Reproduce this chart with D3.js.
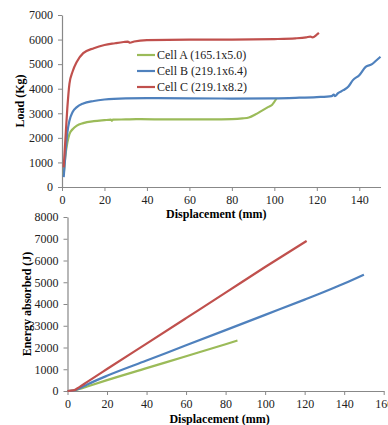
<!DOCTYPE html>
<html>
<head>
<meta charset="utf-8">
<script src="https://cdn.jsdelivr.net/npm/d3@7"></script>
<style>
  body { margin: 0; background: #fff; }
  text { font-family: "Liberation Serif", "Times New Roman", serif; }
</style>
</head>
<body>
<div id="chart"></div>
<script>
  // load curves: [displacement mm, load kg]
  var loadA = [[0.8,500],[1.5,1200],[2.5,1800],[3.5,2150],[5,2350],[7,2500],[10,2600],[15,2680],[20,2720],[23,2740],[23.5,2690],[24,2740],[30,2750],[35,2760],[37,2760],[50,2750],[70,2750],[80,2760],[85,2790],[88,2830],[91,2950],[94,3100],[97,3250],[99,3350],[101,3600]];
  var loadB = [[0.8,400],[1.5,1200],[2.5,2200],[3.5,2700],[5,3050],[7,3250],[10,3400],[15,3500],[20,3560],[30,3610],[40,3620],[60,3610],[80,3600],[100,3610],[110,3630],[120,3660],[127,3700],[128,3760],[128.5,3700],[130,3820],[132.5,3940],[135,4100],[137,4350],[140,4550],[143,4890],[146,5000],[148,5150],[150,5300]];
  var loadC = [[0.8,800],[1.5,1800],[2.5,3200],[3.5,4200],[5,4700],[7,5100],[10,5450],[15,5650],[20,5780],[25,5850],[29,5900],[31,5920],[32,5870],[34,5920],[40,5980],[60,6000],[80,6000],[100,6020],[110,6050],[115,6090],[117,6120],[118,6090],[120,6200],[121,6270]];

  // energy curves: [displacement mm, energy J]
  var energyA = [[0,0],[3,15],[6,90],[10,210],[20,500],[40,1050],[60,1600],[80,2150],[86,2320]];
  var energyB = [[0,0],[3,20],[6,120],[10,300],[20,700],[40,1400],[60,2100],[80,2800],[100,3500],[120,4200],[130,4560],[140,4940],[150,5350]];
  var energyC = [[0,0],[3,25],[6,180],[10,420],[20,1010],[40,2180],[60,3350],[80,4520],[100,5700],[121,6900]];

  var legendLabels = ["Cell A (165.1x5.0)", "Cell B (219.1x6.4)", "Cell C (219.1x8.2)"];
  var colors = ["#9BBB59", "#4F81BD", "#C0504D"];

  var loadTicks = [0,1000,2000,3000,4000,5000,6000,7000];
  var energyTicks = [0,1000,2000,3000,4000,5000,6000,7000,8000];
  var dispTicksTop = [0,20,40,60,80,100,120,140];
  var dispTicksBottom = [0,20,40,60,80,100,120,140,160];

  var svg = d3.select("#chart").append("svg")
    .attr("width", 388)
    .attr("height", 425);

  function drawPanel(opts) {
    var x = d3.scaleLinear().domain(opts.xDomain).range([opts.left, opts.right]);
    var y = d3.scaleLinear().domain(opts.yDomain).range([opts.bottom, opts.top]);

    var g = svg.append("g");

    var xAxis = g.append("g")
      .attr("transform", "translate(0," + opts.bottom + ")")
      .call(d3.axisBottom(x).tickValues(opts.xTicks).tickSize(4).tickSizeOuter(0));
    var yAxis = g.append("g")
      .attr("transform", "translate(" + opts.left + ",0)")
      .call(d3.axisLeft(y).tickValues(opts.yTicks).tickSize(4).tickSizeOuter(0).tickFormat(d3.format("d")));

    [xAxis, yAxis].forEach(function (a) {
      a.select(".domain").attr("stroke", "#888").attr("stroke-width", 1.2);
      a.selectAll(".tick line").attr("stroke", "#888");
      a.selectAll("text")
        .style("font-family", "Liberation Serif, serif")
        .style("font-size", "12px")
        .attr("fill", "#222");
    });
    xAxis.selectAll("text").attr("dy", "0.85em");
    yAxis.selectAll("text").attr("dx", "-2");

    var line = d3.line()
      .curve(d3.curveMonotoneX)
      .x(function (d) { return x(d[0]); })
      .y(function (d) { return y(d[1]); });

    opts.series.forEach(function (s, i) {
      g.append("path")
        .datum(s)
        .attr("fill", "none")
        .attr("stroke", colors[i])
        .attr("stroke-width", 2.2)
        .attr("stroke-linejoin", "round")
        .attr("d", line);
    });

    g.append("text")
      .attr("x", (opts.left + opts.right) / 2 + opts.xTitleShift)
      .attr("y", opts.xTitleY)
      .attr("text-anchor", "middle")
      .style("font-weight", "bold")
      .style("font-size", "12px")
      .text("Displacement (mm)");

    g.append("text")
      .attr("transform", "translate(" + opts.yTitleX + "," + ((opts.top + opts.bottom) / 2) + ") rotate(-90)")
      .attr("text-anchor", "middle")
      .style("font-weight", "bold")
      .style("font-size", "12px")
      .text(opts.yTitle);

    return { x: x, y: y };
  }

  drawPanel({
    xDomain: [0, 150], yDomain: [0, 7000],
    left: 62, right: 380.5, top: 15, bottom: 187,
    xTicks: dispTicksTop, yTicks: loadTicks,
    series: [loadA, loadB, loadC],
    xTitleY: 218, xTitleShift: -5, yTitleX: 24, yTitle: "Load (Kg)"
  });

  drawPanel({
    xDomain: [0, 160], yDomain: [0, 8000],
    left: 67.5, right: 383.7, top: 217, bottom: 391,
    xTicks: dispTicksBottom, yTicks: energyTicks,
    series: [energyA, energyB, energyC],
    xTitleY: 423, xTitleShift: -6, yTitleX: 31, yTitle: "Energy absorbed (J)"
  });

  // legend
  var legend = svg.append("g");
  legendLabels.forEach(function (lab, i) {
    var yy = 55 + i * 16;
    legend.append("line")
      .attr("x1", 137).attr("x2", 155)
      .attr("y1", yy).attr("y2", yy)
      .attr("stroke", colors[i]).attr("stroke-width", 2.2);
    legend.append("text")
      .attr("x", 157).attr("y", yy + 4)
      .style("font-size", "12px")
      .attr("fill", "#222")
      .text(lab);
  });
</script>
</body>
</html>
